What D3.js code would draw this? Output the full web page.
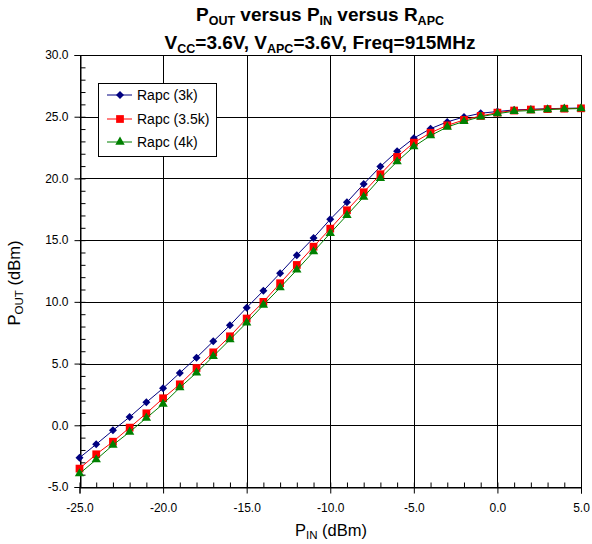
<!DOCTYPE html>
<html><head><meta charset="utf-8">
<script src="https://cdn.jsdelivr.net/npm/d3@7"></script>
<style>body{margin:0;background:#fff}svg{display:block;font-family:"Liberation Sans",Arial,sans-serif}</style>
</head><body><svg id="c" width="592" height="544"></svg>
<script>
const pin = [-25,-24,-23,-22,-21,-20,-19,-18,-17,-16,-15,-14,-13,-12,-11,-10,-9,-8,-7,-6,-5,-4,-3,-2,-1,0,1,2,3,4,5];
const rapc3k = [-2.63,-1.54,-0.41,0.67,1.86,3.0,4.24,5.48,6.8,8.1,9.53,10.9,12.32,13.78,15.18,16.69,18.07,19.55,20.96,22.2,23.26,24.03,24.58,24.98,25.28,25.42,25.55,25.6,25.65,25.68,25.7];
const rapc35k = [-3.51,-2.35,-1.33,-0.19,0.97,2.19,3.32,4.64,5.91,7.21,8.65,10.0,11.51,12.99,14.47,15.93,17.42,18.88,20.34,21.74,22.9,23.7,24.3,24.74,25.06,25.33,25.5,25.58,25.62,25.65,25.68];
const rapc4k = [-3.92,-2.78,-1.6,-0.54,0.59,1.73,3.05,4.26,5.59,6.94,8.31,9.75,11.15,12.59,14.07,15.56,17.02,18.5,20.02,21.36,22.58,23.47,24.17,24.62,25.0,25.25,25.44,25.5,25.58,25.63,25.66];
const seriesNames = ["Rapc (3k)","Rapc (3.5k)","Rapc (4k)"];
const xTicks = [-25,-20,-15,-10,-5,0,5];
const yTicks = [-5,0,5,10,15,20,25,30];

const series = [
  {name: seriesNames[0], values: rapc3k, color: "#000080", sym: d3.symbolSquare, size: 32, rot: 45},
  {name: seriesNames[1], values: rapc35k, color: "#FF0000", sym: d3.symbolSquare, size: 60, rot: 0},
  {name: seriesNames[2], values: rapc4k, color: "#008000", sym: d3.symbolTriangle, size: 38, rot: 0}
];

const svg = d3.select("#c");
const L = 79.5, R = 581, T = 55, B = 487;
const x = d3.scaleLinear().domain([-25,5]).range([L,R]);
const y = d3.scaleLinear().domain([-5,30]).range([B,T]);
const fmt = d => d3.format(".1f")(d).replace("\u2212","-");

// gridlines
const g = svg.append("g");
g.selectAll("line.vg").data(xTicks).join("line")
  .attr("x1", d=>Math.round(x(d))+0.5).attr("x2", d=>Math.round(x(d))+0.5)
  .attr("y1", T).attr("y2", B).attr("stroke","#000").attr("stroke-width",1);
g.selectAll("line.hg").data(yTicks).join("line")
  .attr("y1", d=>Math.round(y(d))+0.5).attr("y2", d=>Math.round(y(d))+0.5)
  .attr("x1", L).attr("x2", R).attr("stroke","#000").attr("stroke-width",1);

// axes
const xAxis = d3.axisBottom(x).tickValues(xTicks).tickFormat(fmt).tickSize(6).tickPadding(10);
const xg = svg.append("g").attr("transform",`translate(0,${Math.round(B)+0.5})`).call(xAxis);
const xMinor = d3.axisTop(x).tickValues(d3.range(-25,6,1)).tickFormat("").tickSize(5);
svg.append("g").attr("transform",`translate(0,${Math.round(B)+0.5})`).call(xMinor).select(".domain").remove();

const yAxis = d3.axisLeft(y).tickValues(yTicks).tickFormat(fmt).tickSize(6).tickPadding(6);
const yg = svg.append("g").attr("transform",`translate(${Math.round(L)+0.5},0)`).call(yAxis);
const yMinor = d3.axisRight(y).tickValues(d3.range(-5,31,1)).tickFormat("").tickSize(5);
svg.append("g").attr("transform",`translate(${Math.round(L)+0.5},0)`).call(yMinor).select(".domain").remove();

svg.selectAll(".tick text").attr("font-size",12).attr("fill","#000").attr("font-family","Liberation Sans, Arial, sans-serif");
svg.selectAll(".domain").attr("stroke","#000");
svg.selectAll(".tick line").attr("stroke","#000");
xg.selectAll(".tick text").attr("dy","0.71em");

// plot frame
svg.append("rect").attr("x",Math.round(L)+0.5).attr("y",Math.round(T)+0.5)
  .attr("width",Math.round(R)-Math.round(L)).attr("height",Math.round(B)-Math.round(T))
  .attr("fill","none").attr("stroke","#000");

// series
const line = d3.line().x((d,i)=>x(pin[i])).y(d=>y(d));
series.forEach(s=>{
  svg.append("path").datum(s.values).attr("d",line).attr("fill","none").attr("stroke",s.color).attr("stroke-width",1);
  svg.append("g").selectAll("path").data(s.values).join("path")
    .attr("transform",(d,i)=>`translate(${x(pin[i])},${y(d)}) rotate(${s.rot})`)
    .attr("d", d3.symbol().type(s.sym).size(s.size)).attr("fill",s.color);
});

// legend
const lg = svg.append("g");
lg.append("rect").attr("x",98.5).attr("y",83.5).attr("width",118).attr("height",73).attr("fill","#fff").attr("stroke","#000");
const rowsY = [95, 119, 142];
series.forEach((s,i)=>{
  lg.append("line").attr("x1",107).attr("x2",132).attr("y1",rowsY[i]).attr("y2",rowsY[i]).attr("stroke",s.color);
  lg.append("path").attr("transform",`translate(120,${rowsY[i]}) rotate(${s.rot})`).attr("d",d3.symbol().type(s.sym).size(s.size)).attr("fill",s.color);
  lg.append("text").attr("x",137).attr("y",rowsY[i]).attr("dy","0.35em").attr("font-size",14).text(s.name);
});

// titles
const cx = 320;
const SUB = 12.5, DY = 4;
const t1 = svg.append("text").attr("x",cx).attr("y",21).attr("text-anchor","middle").attr("font-size",19).attr("font-weight","bold");
t1.append("tspan").text("P");
t1.append("tspan").attr("font-size",SUB).attr("dy",DY).text("OUT");
t1.append("tspan").attr("dy",-DY).text(" versus P");
t1.append("tspan").attr("font-size",SUB).attr("dy",DY).text("IN");
t1.append("tspan").attr("dy",-DY).text(" versus R");
t1.append("tspan").attr("font-size",SUB).attr("dy",DY).text("APC");

const t2 = svg.append("text").attr("x",cx).attr("y",49).attr("text-anchor","middle").attr("font-size",19).attr("font-weight","bold");
t2.append("tspan").text("V");
t2.append("tspan").attr("font-size",SUB).attr("dy",DY).text("CC");
t2.append("tspan").attr("dy",-DY).text("=3.6V, V");
t2.append("tspan").attr("font-size",SUB).attr("dy",DY).text("APC");
t2.append("tspan").attr("dy",-DY).text("=3.6V, Freq=915MHz");

// axis titles
const xt = svg.append("text").attr("x",331).attr("y",536).attr("text-anchor","middle").attr("font-size",16.5);
xt.append("tspan").text("P");
xt.append("tspan").attr("font-size",11.5).attr("dy",3).text("IN");
xt.append("tspan").attr("dy",-3).text(" (dBm)");

const yt = svg.append("text").attr("transform",`translate(20,283) rotate(-90)`).attr("text-anchor","middle").attr("font-size",16.5);
yt.append("tspan").text("P");
yt.append("tspan").attr("font-size",11.5).attr("dy",3).text("OUT");
yt.append("tspan").attr("dy",-3).text(" (dBm)");
</script></body></html>
